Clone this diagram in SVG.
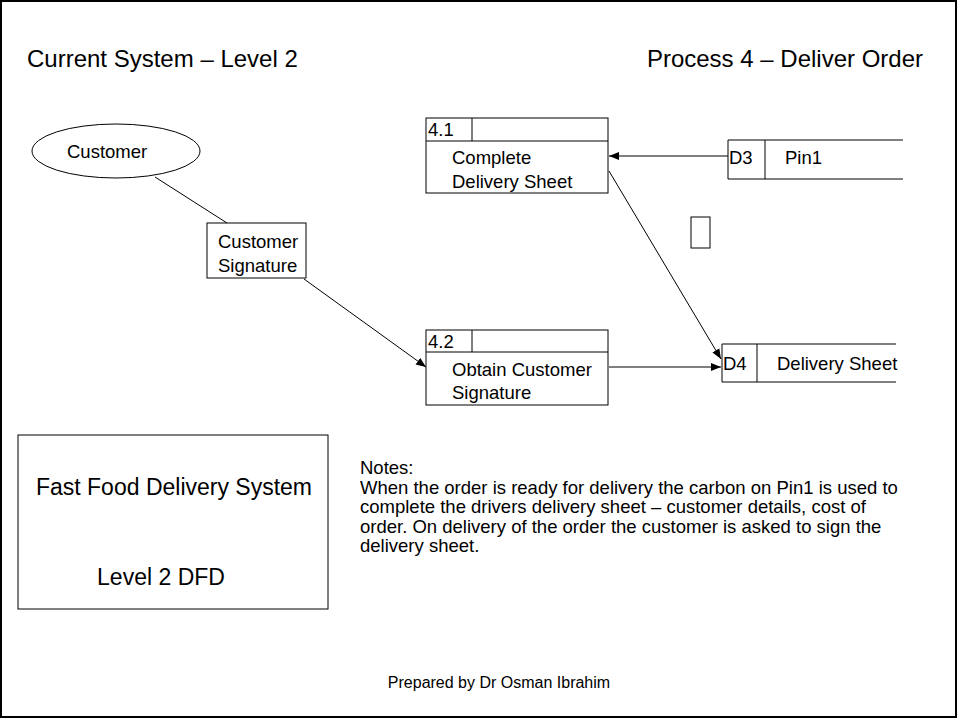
<svg xmlns="http://www.w3.org/2000/svg" width="958" height="720" viewBox="0 0 958 720">
  <defs>
    <marker id="arrow" viewBox="0 0 10 10" refX="10" refY="5" markerWidth="10" markerHeight="10" markerUnits="userSpaceOnUse" orient="auto">
      <path d="M0,1 L10,5 L0,9 Z" fill="#000"/>
    </marker>
    <style>
      text { font-family: "Liberation Sans", Arial, sans-serif; fill: #000; }
      .title { font-size: 24px; }
      .big { font-size: 23px; }
      .lbl { font-size: 18.5px; }
      .box { fill: #fff; stroke: #000; stroke-width: 1; }
      .ln { fill: none; stroke: #000; stroke-width: 1; }
      .flow { fill: none; stroke: #000; stroke-width: 1; marker-end: url(#arrow); }
    </style>
  </defs>

  <rect x="0" y="0" width="958" height="720" fill="#fff"/>
  <rect x="1" y="1" width="955" height="716" fill="none" stroke="#000" stroke-width="2"/>

  <text class="title" x="27" y="67">Current System – Level 2</text>
  <text class="title" x="923" y="67" text-anchor="end">Process 4 – Deliver Order</text>

  <!-- external entity -->
  <g id="customer">
    <ellipse class="box" cx="116" cy="151" rx="84" ry="27"/>
    <text class="lbl" x="67" y="158">Customer</text>
  </g>

  <g id="customer-signature">
    <rect class="box" x="207" y="223" width="99" height="55"/>
    <text class="lbl" x="218" y="248">Customer</text>
    <text class="lbl" x="218" y="272">Signature</text>
  </g>

  <!-- processes -->
  <g id="p41">
    <rect class="box" x="426" y="118" width="182" height="75"/>
    <line class="ln" x1="426" y1="141" x2="608" y2="141"/>
    <line class="ln" x1="472" y1="118" x2="472" y2="141"/>
    <text class="lbl" x="428" y="136">4.1</text>
    <text class="lbl" x="452" y="164">Complete</text>
    <text class="lbl" x="452" y="188">Delivery Sheet</text>
  </g>

  <g id="p42">
    <rect class="box" x="426" y="330" width="182" height="75"/>
    <line class="ln" x1="426" y1="352" x2="608" y2="352"/>
    <line class="ln" x1="472" y1="330" x2="472" y2="352"/>
    <text class="lbl" x="428" y="348">4.2</text>
    <text class="lbl" x="452" y="376">Obtain Customer</text>
    <text class="lbl" x="452" y="399">Signature</text>
  </g>

  <!-- data stores -->
  <g id="d3">
    <path class="ln" d="M903,140 H728 V179 H903"/>
    <line class="ln" x1="765" y1="140" x2="765" y2="179"/>
    <text class="lbl" x="729" y="164">D3</text>
    <text class="lbl" x="785" y="164">Pin1</text>
  </g>

  <g id="d4">
    <path class="ln" d="M896,344 H722 V382 H896"/>
    <line class="ln" x1="757" y1="344" x2="757" y2="382"/>
    <text class="lbl" x="723" y="370">D4</text>
    <text class="lbl" x="777" y="370">Delivery Sheet</text>
  </g>

  <g id="marker-box">
    <rect class="box" x="691" y="217" width="19" height="31"/>
  </g>

  <!-- data flows -->
  <g id="connectors">
    <line class="ln" x1="155" y1="177" x2="227" y2="223"/>
    <line class="flow" x1="304" y1="279" x2="426" y2="367"/>
    <line class="flow" x1="728" y1="156" x2="609" y2="156"/>
    <line class="flow" x1="609" y1="171" x2="721" y2="359"/>
    <line class="flow" x1="609" y1="367" x2="721" y2="367"/>
  </g>

  <g id="legend">
    <rect class="box" x="18" y="435" width="310" height="174"/>
    <text class="big" x="174" y="495" text-anchor="middle">Fast Food Delivery System</text>
    <text class="big" x="161" y="585" text-anchor="middle">Level 2 DFD</text>
  </g>

  <g id="notes">
    <text class="lbl" x="360" y="474">Notes:</text>
    <text class="lbl" x="360" y="494">When the order is ready for delivery the carbon on Pin1 is used to</text>
    <text class="lbl" x="360" y="513">complete the drivers delivery sheet – customer details, cost of</text>
    <text class="lbl" x="360" y="533">order. On delivery of the order the customer is asked to sign the</text>
    <text class="lbl" x="360" y="552">delivery sheet.</text>
  </g>

  <text x="499" y="688" font-size="16" text-anchor="middle">Prepared by Dr Osman Ibrahim</text>
</svg>
